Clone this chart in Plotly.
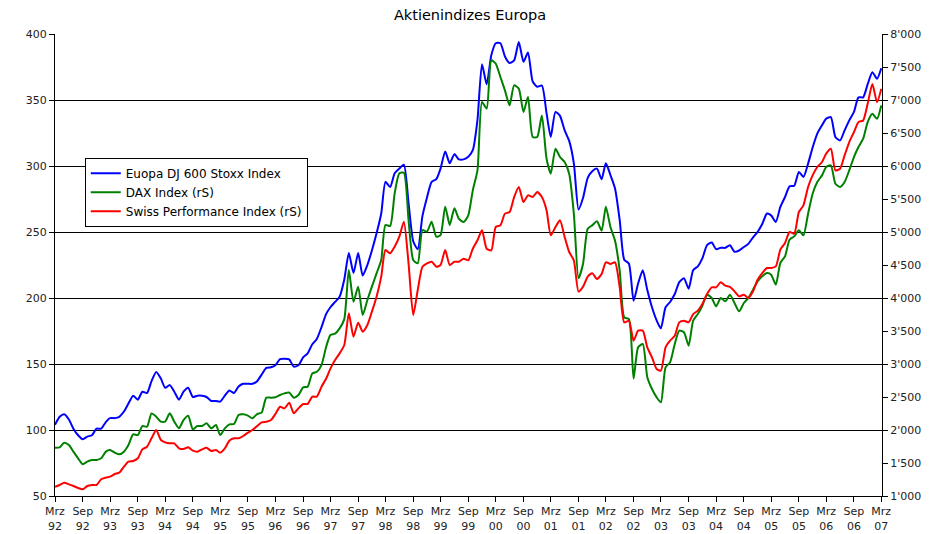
import pandas as pd
import plotly.graph_objects as go

# Monthly observations, Mrz 1992 .. Mrz 2007
months = pd.date_range("1992-03-01", periods=181, freq="MS")

stoxx600 = [
    104, 110, 112, 108, 101, 96, 93, 95, 96, 101,
    101, 106, 109, 109, 110, 114, 120, 126, 123, 129,
    128, 137, 144, 139, 132, 134, 129, 123, 129, 132,
    125, 126, 126, 125, 122, 122, 121.5, 126, 130, 128,
    133, 135, 135, 135, 137, 142, 147, 147.5, 149, 153.7,
    154, 153.5, 148, 149, 155, 158, 165, 169, 178, 188,
    193, 197, 201, 214, 234, 219, 234, 217, 225, 236,
    249, 264, 288, 284, 294.5, 298, 301, 272, 243, 237,
    262, 276, 288, 290, 298, 311, 302, 309, 305, 305,
    307, 312, 335, 377, 362, 384, 393, 393, 383, 378,
    380, 394, 379, 386, 364, 360, 361, 340, 322, 341,
    338, 327, 319, 302, 267, 276, 291, 296, 298, 290,
    302, 293, 283, 259, 229, 226, 198, 211, 221, 206,
    193, 183, 177, 193, 197, 203, 212, 215, 207, 221,
    224, 230, 240, 242, 237, 238, 238, 240, 235, 236,
    238.6, 241, 246, 250, 256, 264, 262.6, 257.6, 269, 276.5,
    284.6, 285, 295.5, 291.7, 301.8, 314, 324.5, 330.8, 335.9, 337,
    322, 319.4, 327, 334.6, 341, 352, 352, 362, 371, 366,
    374,
]

dax = [
    1732, 1737, 1808, 1773, 1672, 1571, 1480, 1520, 1545, 1545,
    1571, 1672, 1697, 1657, 1631, 1672, 1773, 1934, 1924, 2060,
    2050, 2252, 2202, 2126, 2126, 2252, 2126, 2025, 2151, 2217,
    2010, 2060, 2060, 2101, 2025, 2075, 1924, 2025, 2086, 2091,
    2227, 2237, 2217, 2177, 2242, 2263, 2490, 2490, 2495, 2530,
    2555, 2566, 2490, 2530, 2646, 2656, 2858, 2883, 2984, 3262,
    3439, 3460, 3540, 3680, 4424, 3944, 4172, 3742, 3970, 4172,
    4374, 4576, 5106, 5091, 5586, 5889, 5899, 5182, 4576, 4525,
    5030, 5005, 5156, 4929, 4954, 5384, 5106, 5358, 5200, 5151,
    5252, 5631, 5934, 6970, 6869, 7601, 7551, 7349, 7146, 6919,
    7222, 7172, 6818, 7045, 6439, 6439, 6767, 6111, 5884, 6262,
    6136, 6060, 5884, 5278, 4300, 4520, 5050, 5100, 5162, 5020,
    5384, 5071, 4869, 4414, 3707, 3680, 2780, 3252, 3303, 2798,
    2621, 2495, 2419, 2949, 3025, 3303, 3505, 3480, 3278, 3656,
    3757, 3883, 4050, 4000, 3873, 4000, 3950, 4050, 3924, 3798,
    3924, 4000, 4126, 4252, 4328, 4378, 4353, 4202, 4530, 4631,
    4883, 4934, 5025, 4949, 5277, 5580, 5757, 5858, 5985, 6010,
    5732, 5682, 5757, 5934, 6136, 6287, 6413, 6665, 6791, 6715,
    6917,
]

spi = [
    1141, 1167, 1202, 1177, 1151, 1121, 1101, 1151, 1167, 1167,
    1253, 1278, 1293, 1333, 1354, 1444, 1520, 1530, 1571, 1707,
    1747, 1874, 2000, 1848, 1813, 1798, 1798, 1722, 1712, 1737,
    1687, 1672, 1707, 1732, 1682, 1697, 1657, 1722, 1838, 1874,
    1874, 1909, 1960, 2000, 2060, 2116, 2126, 2151, 2242, 2353,
    2328, 2414, 2252, 2328, 2394, 2394, 2505, 2505, 2656, 2780,
    2930, 3060, 3161, 3288, 3768, 3414, 3626, 3490, 3591, 3793,
    4020, 4323, 4727, 4677, 4778, 4929, 5156, 4525, 3742, 4121,
    4474, 4525, 4550, 4474, 4500, 4727, 4500, 4550, 4550, 4596,
    4571, 4747, 4874, 5025, 4747, 4722, 5076, 5101, 5278, 5303,
    5530, 5682, 5454, 5555, 5530, 5606, 5530, 5328, 4949, 5076,
    5177, 4924, 4697, 4571, 4096, 4172, 4323, 4374, 4288, 4364,
    4540, 4515, 4540, 4161, 3631, 3656, 3353, 3505, 3505, 3252,
    3101, 2924, 2899, 3252, 3353, 3429, 3631, 3656, 3631, 3757,
    3808, 3909, 4060, 4161, 4161, 4237, 4187, 4170, 4101, 4025,
    4050, 4000, 4101, 4277, 4378, 4454, 4454, 4479, 4732, 4833,
    5000, 4975, 5303, 5404, 5682, 5858, 5985, 6060, 6187, 6262,
    5934, 5959, 6161, 6363, 6514, 6665, 6690, 6942, 7244, 6967,
    7168,
]

x_tick_dates = pd.date_range("1992-03-01", "2007-03-01", freq="6MS")
x_tick_text = [("Mrz" if d.month == 3 else "Sep") + "<br>" + d.strftime("%y") for d in x_tick_dates]

left_ticks = [50, 100, 150, 200, 250, 300, 350, 400]
right_ticks = [1000, 1500, 2000, 2500, 3000, 3500, 4000, 4500, 5000, 5500, 6000, 6500, 7000, 7500, 8000]
right_tick_text = ["{:,}".format(v).replace(",", "'") for v in right_ticks]

FONT = "DejaVu Sans"
TICK_FONT = dict(family=FONT, size=11, color="#222")

fig = go.Figure()
fig.add_trace(go.Scatter(x=months, y=stoxx600, name="Euopa DJ 600 Stoxx Index",
                         mode="lines", line=dict(color="#0000FF", width=2, shape="spline", smoothing=0.6)))
fig.add_trace(go.Scatter(x=months, y=dax, name="DAX Index (rS)", yaxis="y2",
                         mode="lines", line=dict(color="#008000", width=2, shape="spline", smoothing=0.6)))
fig.add_trace(go.Scatter(x=months, y=spi, name="Swiss Performance Index (rS)", yaxis="y2",
                         mode="lines", line=dict(color="#FF0000", width=2, shape="spline", smoothing=0.6)))

fig.update_layout(
    width=940, height=534,
    margin=dict(l=55, r=58, t=34, b=38, autoexpand=False),
    paper_bgcolor="white", plot_bgcolor="white",
    font=dict(family=FONT, size=11, color="#222"),
    title=dict(text="Aktienindizes Europa", x=0.5, xref="container", xanchor="center",
               y=1 - 15 / 534, yanchor="middle", font=dict(family=FONT, size=14.5, color="#000")),
    showlegend=True,
    legend=dict(x=0.036, y=0.732, xanchor="left", yanchor="top",
                bgcolor="white", bordercolor="black", borderwidth=1,
                font=dict(family=FONT, size=12, color="#000"), tracegroupgap=0),
    xaxis=dict(
        range=[months[0], pd.Timestamp("2007-03-06")],
        tickmode="array", tickvals=list(x_tick_dates), ticktext=x_tick_text,
        ticks="outside", ticklen=5, tickcolor="black",
        showline=True, linecolor="black", linewidth=1,
        showgrid=False, zeroline=False, automargin=False,
        tickfont=TICK_FONT,
    ),
    yaxis=dict(
        range=[50, 400], tickmode="array", tickvals=left_ticks,
        ticks="outside", ticklen=5, tickcolor="black",
        showline=True, linecolor="black", linewidth=1,
        showgrid=True, gridcolor="black", gridwidth=1, zeroline=False, automargin=False,
        tickfont=TICK_FONT,
    ),
    yaxis2=dict(
        range=[1000, 8000], overlaying="y", side="right",
        tickmode="array", tickvals=right_ticks, ticktext=right_tick_text,
        ticks="outside", ticklen=5, tickcolor="black",
        showline=True, linecolor="black", linewidth=1,
        showgrid=False, zeroline=False, automargin=False,
        tickfont=TICK_FONT,
    ),
)

fig.write_html("out.html", config={"displayModeBar": False},
               post_script="document.body.style.margin='0';")
